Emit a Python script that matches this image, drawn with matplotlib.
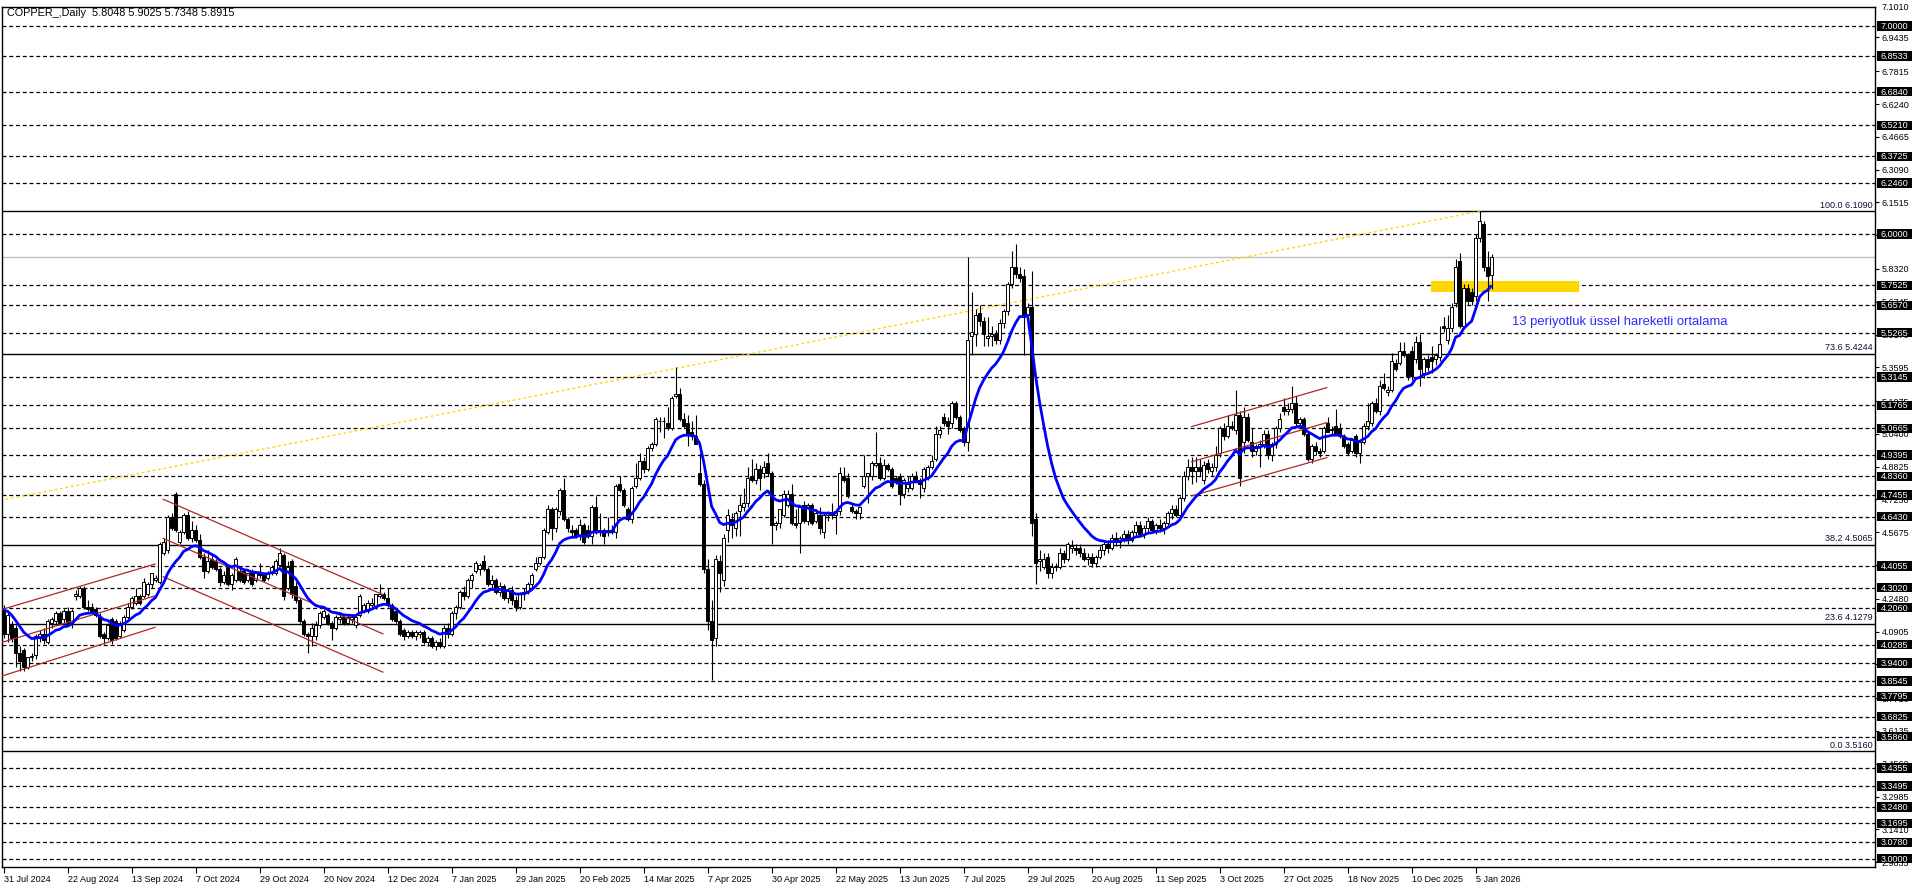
import matplotlib
matplotlib.use("Agg")
import matplotlib.pyplot as plt
from matplotlib.patches import Rectangle
from matplotlib.transforms import IdentityTransform
import numpy as np
import pandas as pd

# daily OHLC, bar 0 = 31 Jul 2024
opens = [
    4.20, 4.08, 4.12, 4.11, 3.99, 4.00, 3.92, 3.97, 3.98, 4.06,
    4.08, 4.04, 4.13, 4.14, 4.18, 4.15, 4.19, 4.13, 4.26, 4.26,
    4.30, 4.21, 4.21, 4.20, 4.16, 4.08, 4.06, 4.15, 4.14, 4.07,
    4.10, 4.16, 4.21, 4.23, 4.26, 4.26, 4.27, 4.32, 4.34, 4.33,
    4.47, 4.48, 4.64, 4.75, 4.52, 4.57, 4.65, 4.54, 4.58, 4.53,
    4.45, 4.38, 4.44, 4.43, 4.39, 4.33, 4.40, 4.32, 4.34, 4.38,
    4.38, 4.34, 4.38, 4.34, 4.37, 4.36, 4.35, 4.37, 4.37, 4.41,
    4.46, 4.30, 4.43, 4.31, 4.24, 4.14, 4.08, 4.07, 4.07, 4.12,
    4.16, 4.17, 4.13, 4.11, 4.15, 4.16, 4.13, 4.15, 4.12, 4.17,
    4.19, 4.19, 4.22, 4.21, 4.26, 4.27, 4.25, 4.22, 4.19, 4.14,
    4.10, 4.07, 4.09, 4.07, 4.08, 4.09, 4.04, 4.06, 4.02, 4.04,
    4.02, 4.11, 4.08, 4.18, 4.21, 4.28, 4.26, 4.34, 4.38, 4.39,
    4.43, 4.39, 4.32, 4.34, 4.28, 4.31, 4.25, 4.29, 4.24, 4.21,
    4.27, 4.28, 4.32, 4.39, 4.42, 4.45, 4.57, 4.68, 4.59, 4.67,
    4.77, 4.63, 4.58, 4.58, 4.55, 4.60, 4.58, 4.55, 4.69, 4.57,
    4.58, 4.57, 4.58, 4.57, 4.80, 4.77, 4.68, 4.63, 4.79, 4.83,
    4.91, 4.87, 4.97, 4.99, 5.10, 5.10, 5.09, 5.07, 5.22, 5.23,
    5.11, 5.09, 5.05, 5.03, 4.85, 4.80, 4.39, 4.14, 4.06, 4.43,
    4.34, 4.58, 4.63, 4.59, 4.67, 4.69, 4.71, 4.84, 4.82, 4.87,
    4.85, 4.90, 4.85, 4.60, 4.61, 4.65, 4.70, 4.75, 4.61, 4.61,
    4.70, 4.62, 4.70, 4.62, 4.65, 4.57, 4.65, 4.66, 4.65, 4.67,
    4.84, 4.83, 4.69, 4.67, 4.66, 4.79, 4.84, 4.84, 4.89, 4.90,
    4.83, 4.89, 4.87, 4.83, 4.84, 4.75, 4.78, 4.78, 4.84, 4.82,
    4.78, 4.83, 4.88, 4.92, 5.04, 5.12, 5.10, 5.09, 5.19, 5.12,
    5.07, 5.00, 5.51, 5.52, 5.62, 5.58, 5.50, 5.51, 5.52, 5.49,
    5.57, 5.63, 5.76, 5.84, 5.81, 5.80, 5.61, 5.65, 4.63, 4.43,
    4.40, 4.45, 4.37, 4.40, 4.40, 4.47, 4.44, 4.49, 4.49, 4.49,
    4.47, 4.44, 4.45, 4.42, 4.45, 4.48, 4.51, 4.49, 4.54, 4.52,
    4.54, 4.56, 4.53, 4.57, 4.60, 4.56, 4.59, 4.62, 4.58, 4.60,
    4.59, 4.61, 4.66, 4.68, 4.65, 4.73, 4.84, 4.88, 4.86, 4.88,
    4.82, 4.90, 4.86, 4.88, 4.95, 5.07, 5.03, 5.08, 5.06, 5.13,
    5.00, 5.12, 5.00, 4.96, 4.98, 4.99, 5.04, 4.94, 4.99, 5.07,
    5.17, 5.15, 5.16, 5.19, 5.09, 5.11, 5.04, 4.92, 4.98, 4.96,
    4.96, 5.09, 5.06, 5.08, 5.07, 5.03, 4.99, 4.96, 5.03, 4.95,
    5.00, 5.08, 5.09, 5.19, 5.15, 5.28, 5.24, 5.25, 5.38, 5.38,
    5.44, 5.42, 5.44, 5.40, 5.48, 5.33, 5.40, 5.41, 5.40, 5.41,
    5.56, 5.49, 5.55, 5.67, 5.87, 5.56, 5.74, 5.72, 5.70, 5.98,
    6.05, 5.84, 5.8048,
]
highs = [
    4.22, 4.19, 4.14, 4.12, 4.02, 4.01, 3.97, 3.99, 4.08, 4.10,
    4.11, 4.15, 4.16, 4.19, 4.19, 4.20, 4.21, 4.20, 4.29, 4.31,
    4.31, 4.24, 4.23, 4.21, 4.18, 4.09, 4.13, 4.16, 4.15, 4.14,
    4.17, 4.23, 4.26, 4.30, 4.27, 4.35, 4.33, 4.37, 4.36, 4.52,
    4.54, 4.65, 4.66, 4.76, 4.58, 4.66, 4.67, 4.62, 4.60, 4.56,
    4.47, 4.48, 4.46, 4.44, 4.40, 4.38, 4.41, 4.37, 4.45, 4.40,
    4.39, 4.37, 4.39, 4.38, 4.42, 4.37, 4.38, 4.41, 4.44, 4.49,
    4.47, 4.43, 4.44, 4.33, 4.25, 4.15, 4.09, 4.13, 4.14, 4.19,
    4.20, 4.18, 4.14, 4.17, 4.17, 4.17, 4.17, 4.17, 4.17, 4.27,
    4.23, 4.24, 4.25, 4.27, 4.32, 4.28, 4.30, 4.23, 4.20, 4.15,
    4.11, 4.10, 4.10, 4.10, 4.10, 4.10, 4.07, 4.07, 4.05, 4.06,
    4.12, 4.13, 4.19, 4.22, 4.29, 4.31, 4.35, 4.37, 4.43, 4.42,
    4.46, 4.40, 4.36, 4.35, 4.33, 4.32, 4.30, 4.31, 4.26, 4.28,
    4.30, 4.33, 4.37, 4.45, 4.45, 4.59, 4.70, 4.69, 4.69, 4.78,
    4.83, 4.64, 4.60, 4.59, 4.63, 4.61, 4.60, 4.70, 4.74, 4.66,
    4.59, 4.64, 4.60, 4.80, 4.84, 4.78, 4.69, 4.79, 4.90, 4.95,
    4.93, 4.98, 5.00, 5.12, 5.12, 5.12, 5.17, 5.22, 5.36, 5.26,
    5.14, 5.13, 5.10, 5.13, 4.95, 4.82, 4.44, 4.24, 4.46, 4.46,
    4.56, 4.68, 4.66, 4.67, 4.74, 4.78, 4.88, 4.92, 4.90, 4.89,
    4.91, 4.95, 4.86, 4.62, 4.68, 4.77, 4.77, 4.80, 4.68, 4.70,
    4.72, 4.71, 4.71, 4.68, 4.69, 4.66, 4.67, 4.71, 4.68, 4.88,
    4.88, 4.85, 4.71, 4.68, 4.69, 4.94, 4.85, 4.91, 5.05, 4.93,
    4.92, 4.90, 4.88, 4.84, 4.85, 4.83, 4.84, 4.85, 4.86, 4.83,
    4.88, 4.89, 4.94, 5.08, 5.08, 5.14, 5.12, 5.20, 5.20, 5.13,
    5.08, 5.89, 5.72, 5.64, 5.66, 5.60, 5.60, 5.56, 5.54, 5.59,
    5.64, 5.77, 5.92, 5.95, 5.84, 5.83, 5.67, 5.82, 4.66, 4.48,
    4.47, 4.47, 4.42, 4.42, 4.49, 4.48, 4.52, 4.53, 4.51, 4.51,
    4.49, 4.47, 4.47, 4.46, 4.50, 4.52, 4.53, 4.56, 4.57, 4.55,
    4.58, 4.58, 4.58, 4.62, 4.62, 4.60, 4.64, 4.63, 4.61, 4.63,
    4.62, 4.67, 4.70, 4.70, 4.74, 4.86, 4.92, 4.93, 4.93, 4.92,
    4.91, 4.92, 4.90, 4.98, 5.08, 5.09, 5.13, 5.10, 5.25, 5.15,
    5.17, 5.14, 5.07, 4.99, 5.01, 5.06, 5.06, 5.00, 5.08, 5.14,
    5.21, 5.19, 5.27, 5.22, 5.12, 5.12, 5.05, 4.99, 5.00, 4.97,
    5.08, 5.12, 5.08, 5.16, 5.09, 5.04, 5.00, 5.02, 5.04, 5.01,
    5.09, 5.19, 5.20, 5.21, 5.30, 5.33, 5.27, 5.43, 5.40, 5.48,
    5.48, 5.43, 5.46, 5.51, 5.52, 5.41, 5.42, 5.46, 5.43, 5.56,
    5.60, 5.61, 5.67, 5.88, 5.91, 5.76, 5.76, 5.74, 6.00, 6.11,
    6.06, 5.92, 5.9025,
]
lows = [
    4.06, 4.04, 4.04, 3.92, 3.90, 3.90, 3.91, 3.95, 3.96, 4.04,
    4.03, 4.03, 4.11, 4.12, 4.12, 4.13, 4.12, 4.11, 4.24, 4.25,
    4.20, 4.19, 4.19, 4.16, 4.06, 4.03, 4.05, 4.03, 4.05, 4.06,
    4.09, 4.15, 4.20, 4.22, 4.22, 4.25, 4.26, 4.30, 4.33, 4.32,
    4.46, 4.47, 4.58, 4.57, 4.51, 4.56, 4.53, 4.52, 4.52, 4.44,
    4.35, 4.37, 4.39, 4.38, 4.31, 4.32, 4.31, 4.29, 4.33, 4.33,
    4.32, 4.33, 4.31, 4.33, 4.35, 4.33, 4.34, 4.36, 4.36, 4.40,
    4.24, 4.29, 4.25, 4.23, 4.13, 4.07, 3.99, 4.02, 4.05, 4.11,
    4.15, 4.12, 4.05, 4.10, 4.13, 4.12, 4.12, 4.13, 4.11, 4.16,
    4.18, 4.18, 4.20, 4.20, 4.25, 4.24, 4.21, 4.14, 4.13, 4.07,
    4.05, 4.06, 4.06, 4.05, 4.06, 4.03, 4.02, 4.01, 4.00, 4.01,
    4.01, 4.06, 4.07, 4.15, 4.20, 4.24, 4.25, 4.30, 4.37, 4.36,
    4.38, 4.31, 4.29, 4.27, 4.26, 4.24, 4.23, 4.22, 4.19, 4.20,
    4.24, 4.27, 4.30, 4.38, 4.41, 4.44, 4.56, 4.53, 4.57, 4.65,
    4.62, 4.57, 4.55, 4.54, 4.53, 4.51, 4.54, 4.51, 4.56, 4.55,
    4.51, 4.55, 4.56, 4.54, 4.76, 4.69, 4.62, 4.61, 4.78, 4.82,
    4.85, 4.86, 4.96, 4.98, 5.05, 5.02, 5.06, 5.06, 5.21, 5.10,
    5.07, 4.98, 5.01, 4.99, 4.79, 4.37, 4.10, 3.86, 4.02, 4.28,
    4.31, 4.52, 4.54, 4.55, 4.55, 4.67, 4.69, 4.81, 4.80, 4.77,
    4.83, 4.84, 4.51, 4.58, 4.59, 4.64, 4.69, 4.60, 4.59, 4.47,
    4.61, 4.60, 4.60, 4.61, 4.56, 4.54, 4.62, 4.63, 4.56, 4.65,
    4.81, 4.73, 4.66, 4.63, 4.63, 4.78, 4.71, 4.82, 4.88, 4.82,
    4.82, 4.86, 4.78, 4.80, 4.70, 4.73, 4.76, 4.77, 4.81, 4.73,
    4.76, 4.82, 4.87, 4.91, 5.02, 5.08, 5.04, 5.07, 5.11, 5.05,
    4.98, 4.96, 5.42, 5.46, 5.56, 5.46, 5.46, 5.46, 5.47, 5.47,
    5.55, 5.61, 5.74, 5.79, 5.77, 5.42, 5.60, 4.55, 4.32, 4.38,
    4.39, 4.35, 4.35, 4.38, 4.39, 4.42, 4.43, 4.47, 4.46, 4.45,
    4.43, 4.41, 4.40, 4.40, 4.44, 4.46, 4.47, 4.48, 4.50, 4.49,
    4.52, 4.51, 4.52, 4.55, 4.55, 4.54, 4.57, 4.57, 4.56, 4.57,
    4.56, 4.60, 4.63, 4.64, 4.64, 4.72, 4.82, 4.80, 4.81, 4.84,
    4.80, 4.85, 4.84, 4.86, 4.93, 5.01, 5.02, 5.06, 5.04, 4.79,
    4.95, 5.00, 4.93, 4.94, 4.88, 4.97, 4.92, 4.91, 4.97, 5.05,
    5.13, 5.13, 5.14, 5.08, 5.07, 5.03, 4.91, 4.90, 4.94, 4.93,
    4.95, 5.05, 5.04, 5.04, 5.02, 4.97, 4.94, 4.95, 4.93, 4.90,
    4.99, 5.06, 5.08, 5.14, 5.13, 5.25, 5.22, 5.24, 5.34, 5.37,
    5.41, 5.30, 5.30, 5.38, 5.27, 5.31, 5.34, 5.33, 5.37, 5.39,
    5.53, 5.47, 5.53, 5.65, 5.55, 5.55, 5.66, 5.66, 5.68, 5.96,
    5.82, 5.68, 5.7348,
]
closes = [
    4.08, 4.17, 4.06, 3.99, 3.95, 3.92, 3.97, 3.97, 4.07, 4.08,
    4.05, 4.14, 4.15, 4.18, 4.13, 4.19, 4.13, 4.19, 4.27, 4.30,
    4.21, 4.20, 4.19, 4.17, 4.07, 4.06, 4.12, 4.05, 4.06, 4.13,
    4.16, 4.21, 4.25, 4.26, 4.23, 4.33, 4.32, 4.37, 4.35, 4.51,
    4.52, 4.64, 4.59, 4.58, 4.57, 4.65, 4.54, 4.58, 4.53, 4.45,
    4.38, 4.43, 4.40, 4.39, 4.33, 4.36, 4.32, 4.36, 4.44, 4.34,
    4.33, 4.37, 4.32, 4.37, 4.36, 4.34, 4.37, 4.40, 4.43, 4.47,
    4.26, 4.40, 4.27, 4.24, 4.14, 4.08, 4.07, 4.11, 4.12, 4.18,
    4.19, 4.13, 4.11, 4.16, 4.16, 4.13, 4.16, 4.16, 4.16, 4.26,
    4.22, 4.23, 4.23, 4.27, 4.27, 4.25, 4.22, 4.15, 4.14, 4.08,
    4.07, 4.09, 4.07, 4.09, 4.09, 4.04, 4.06, 4.02, 4.04, 4.02,
    4.11, 4.08, 4.18, 4.21, 4.28, 4.26, 4.34, 4.36, 4.42, 4.41,
    4.39, 4.32, 4.34, 4.28, 4.31, 4.25, 4.29, 4.24, 4.21, 4.27,
    4.28, 4.32, 4.36, 4.42, 4.45, 4.58, 4.68, 4.59, 4.68, 4.77,
    4.63, 4.59, 4.57, 4.55, 4.60, 4.52, 4.55, 4.69, 4.57, 4.58,
    4.55, 4.58, 4.57, 4.79, 4.77, 4.70, 4.63, 4.78, 4.83, 4.91,
    4.87, 4.97, 4.99, 5.11, 5.10, 5.10, 5.07, 5.21, 5.23, 5.11,
    5.08, 5.04, 5.03, 4.99, 4.80, 4.39, 4.14, 4.05, 4.44, 4.37,
    4.54, 4.65, 4.60, 4.66, 4.70, 4.71, 4.83, 4.82, 4.87, 4.83,
    4.88, 4.85, 4.60, 4.61, 4.68, 4.75, 4.75, 4.61, 4.60, 4.69,
    4.62, 4.70, 4.61, 4.66, 4.59, 4.65, 4.66, 4.65, 4.67, 4.85,
    4.82, 4.74, 4.67, 4.66, 4.69, 4.84, 4.85, 4.90, 4.90, 4.83,
    4.89, 4.87, 4.79, 4.81, 4.75, 4.82, 4.80, 4.84, 4.82, 4.80,
    4.87, 4.88, 4.91, 5.04, 5.06, 5.09, 5.08, 5.19, 5.12, 5.06,
    5.00, 5.49, 5.53, 5.61, 5.58, 5.52, 5.51, 5.52, 5.49, 5.57,
    5.63, 5.76, 5.84, 5.81, 5.79, 5.60, 5.65, 4.61, 4.42, 4.44,
    4.44, 4.37, 4.40, 4.40, 4.47, 4.44, 4.51, 4.50, 4.48, 4.47,
    4.44, 4.45, 4.42, 4.45, 4.48, 4.51, 4.49, 4.54, 4.52, 4.54,
    4.56, 4.53, 4.57, 4.60, 4.56, 4.59, 4.62, 4.58, 4.60, 4.59,
    4.61, 4.66, 4.68, 4.65, 4.73, 4.84, 4.88, 4.86, 4.88, 4.86,
    4.89, 4.87, 4.88, 4.94, 5.07, 5.03, 5.08, 5.07, 5.13, 4.83,
    5.12, 5.01, 4.96, 4.98, 4.99, 5.04, 4.94, 4.99, 5.07, 5.11,
    5.15, 5.16, 5.19, 5.09, 5.11, 5.04, 4.92, 4.98, 4.96, 4.95,
    5.07, 5.05, 5.06, 5.04, 5.03, 4.98, 4.95, 5.01, 4.95, 5.00,
    5.08, 5.10, 5.19, 5.15, 5.27, 5.26, 5.25, 5.39, 5.35, 5.44,
    5.42, 5.32, 5.32, 5.48, 5.35, 5.40, 5.36, 5.39, 5.42, 5.47,
    5.55, 5.55, 5.65, 5.84, 5.56, 5.74, 5.68, 5.68, 5.98, 6.06,
    5.84, 5.80, 5.8915,
]

ema_period = 13
ema_start = 4.21          # EMA value at the left edge of the chart

date_labels = ["31 Jul 2024", "22 Aug 2024", "13 Sep 2024", "7 Oct 2024",
               "29 Oct 2024", "20 Nov 2024", "12 Dec 2024", "7 Jan 2025",
               "29 Jan 2025", "20 Feb 2025", "14 Mar 2025", "7 Apr 2025",
               "30 Apr 2025", "22 May 2025", "13 Jun 2025", "7 Jul 2025",
               "29 Jul 2025", "20 Aug 2025", "11 Sep 2025", "3 Oct 2025",
               "27 Oct 2025", "18 Nov 2025", "10 Dec 2025", "5 Jan 2026"]
label_every = 16

# dashed horizontal levels (boxed labels on the price axis)
dashed_levels = [7.0000, 6.8533, 6.6840, 6.5210, 6.3725, 6.2460, 6.0000,
                 5.7525, 5.6570, 5.5265, 5.3145, 5.1765, 5.0665, 4.9395,
                 4.8360, 4.7455, 4.6430, 4.4055, 4.3020, 4.2060, 4.0285,
                 3.9400, 3.8545, 3.7795, 3.6825, 3.5860, 3.4355, 3.3495,
                 3.2480, 3.1695, 3.0780, 3.0000]
# plain price-axis ticks
axis_ticks = [6.9435, 6.7815, 6.6240, 6.4665, 6.3090, 6.1515, 5.9940,
              5.8320, 5.6745, 5.5170, 5.3595, 5.1975, 5.0400, 4.8825,
              4.7250, 4.5675, 4.4100, 4.2480, 4.0905, 3.9330, 3.7710,
              3.6135, 3.4560, 3.2985, 3.1410, 2.9835]
top_tick = 7.1010
# fibonacci retracement
fib_pct = [0.0, 23.6, 38.2, 73.6, 100.0]
fib_price = [3.5160, 4.1279, 4.5065, 5.4244, 6.1090]
fib_diag_bars = [-0.9, 369]
fib_diag_prices = [4.72, 6.109]
bid_price = 5.8915

# red channels: (bar0, price0, bar1, price1)
channels = [
    (-0.9, 4.194, 37.85, 4.415), (-0.9, 4.036, 37.85, 4.262), (-0.9, 3.874, 37.85, 4.111),
    (39.9, 4.726, 94.8, 4.268), (39.9, 4.538, 94.8, 4.080), (39.9, 4.354, 94.8, 3.896),
    (297.0, 5.075, 330.8, 5.262), (297.0, 4.906, 330.8, 5.094), (297.0, 4.742, 330.8, 4.926),
]
zone_bars = [356.85, 393.9]
zone_prices = [5.723, 5.774]
note_bar, note_price = 377.1, 5.579
note_text = "13 periyotluk üssel hareketli ortalama"
title_text = "COPPER_,Daily  5.8048 5.9025 5.7348 5.8915"

plt.rcParams["font.family"] = ["Liberation Sans", "DejaVu Sans"]

W, H = 1916, 888
fig = plt.figure(figsize=(W / 100, H / 100), dpi=100)
ax_l, ax_r, ax_t, ax_b = 2, 1875, 6.5, 866.5
ax = fig.add_axes([ax_l / W, (H - ax_b) / H, (ax_r - ax_l) / W, (ax_b - ax_t) / H])
ymin, ymax = 2.9625, 7.0922
ax.set_xlim(-0.4, 467.85)
ax.set_ylim(ymin, ymax)

o = np.array(opens); h = np.array(highs); l = np.array(lows); c = np.array(closes)
idx = np.arange(len(c))

# horizontal levels
for v in dashed_levels:
    ax.axhline(v, color="black", lw=0.9, ls=(0, (3.2, 2.2)), zorder=1)
for v in fib_price:
    ax.axhline(v, color="black", lw=1.0, zorder=1)
ax.axhline(bid_price, color="#c0c0c0", lw=1.0, zorder=1)

# yellow zone + fib diagonal
ax.add_patch(Rectangle((zone_bars[0], zone_prices[0]), zone_bars[1] - zone_bars[0],
                       zone_prices[1] - zone_prices[0], color="#ffd700", lw=0, zorder=1.5))
ax.plot(fib_diag_bars, fib_diag_prices, color="#ffd700", lw=1.0, ls=(0, (2, 2)), zorder=1.6)

# candles
up = c >= o
ax.vlines(idx, l, h, color="black", lw=0.8, zorder=3)
body_h = np.maximum(np.abs(c - o), 0.004)
ax.bar(idx, body_h, bottom=np.minimum(o, c), width=0.6,
       color=np.where(up, "white", "black"), edgecolor="black", linewidth=0.7, zorder=4)

# channels
for b0, p0, b1, p1 in channels:
    ax.plot([b0, b1], [p0, p1], color="#b02828", lw=0.9, zorder=5)

# 13 EMA
ema = pd.Series([ema_start] + closes).ewm(span=ema_period, adjust=False).mean().values[1:]
ax.plot(idx, ema, color="#0000ff", lw=2.0, zorder=6, solid_capstyle="butt")

ax.text(note_bar, note_price, note_text, color="#2a2aff", fontsize=9.4,
        va="center", ha="left", zorder=7)

# fib labels
for pct, v in zip(fib_pct, fib_price):
    ax.annotate(f"{pct:.1f} {v:.4f}", xy=(1, v), xycoords=("axes fraction", "data"),
                xytext=(-2, 1.5), textcoords="offset pixels", ha="right", va="bottom",
                fontsize=6.5, color="#101030", zorder=7)

# axes styling
for s in ax.spines.values():
    s.set_color("black")
    s.set_linewidth(1.0)
ax.yaxis.tick_right()
ax.set_yticks(axis_ticks)
ax.set_yticklabels([f"{v:.4f}" for v in axis_ticks])
ax.tick_params(axis="y", length=3, width=0.8, pad=2, labelsize=6.5, direction="out")
ticks_x = list(range(0, label_every * len(date_labels), label_every))
ax.set_xticks(ticks_x)
ax.set_xticklabels(date_labels)
ax.tick_params(axis="x", length=4, width=0.8, pad=2, labelsize=6.5, direction="out")
for t in ax.get_xticklabels():
    t.set_horizontalalignment("left")

fig.text(7 / W, 1 - 13.3 / H, title_text, fontsize=7.8, va="center", ha="left")

# boxed labels on the price axis (pixel coordinates)
fig.canvas.draw()
for v in dashed_levels:
    ypx = ax.transData.transform((0, v))[1]
    fig.add_artist(Rectangle((ax_r + 2, ypx - 4.8), 35, 9.6, transform=IdentityTransform(),
                             facecolor="black", edgecolor="none", zorder=4))
    fig.text(ax_r + 19.5, ypx - 0.5, f"{v:.4f}", transform=IdentityTransform(),
             color="white", fontsize=6.5, ha="center", va="center", zorder=5)
ytop = ax.transData.transform((0, ymax))[1]
fig.text(ax_r + 7, ytop - 0.5, f"{top_tick:.4f}", transform=IdentityTransform(),
         fontsize=6.5, ha="left", va="center")

fig.savefig("out.png", dpi=100)
